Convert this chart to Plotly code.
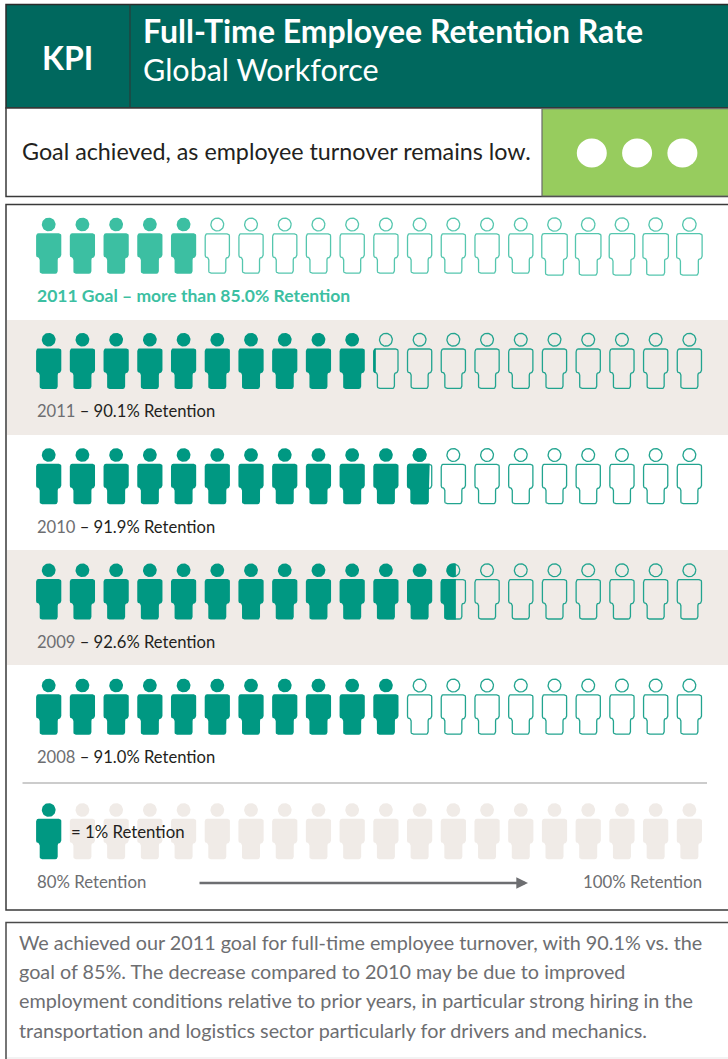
import math
import plotly.graph_objects as go

# ---- data ----
YEARS = ["2011", "2010", "2009", "2008"]
RETENTION = [90.1, 91.9, 92.6, 91.0]
GOAL_YEAR = "2011"
GOAL_VALUE = 85.0
SCALE_START = 80
SCALE_END = 100
STATUS_DOTS = 3
TITLE = "Full-Time Employee Retention Rate"
SUBTITLE = "Global Workforce"
KPI = "KPI"
STATUS_TEXT = "Goal achieved, as employee turnover remains low."
BODY_LINES = [
    "We achieved our 2011 goal for full-time employee turnover, with 90.1% vs. the",
    "goal of 85%. The decrease compared to 2010 may be due to improved",
    "employment conditions relative to prior years, in particular strong hiring in the",
    "transportation and logistics sector particularly for drivers and mechanics.",
]

# ---- styles / layout ----
W, H = 728, 1059
FONT = "Lato"
DEEP = "#00685E"
TEAL = "#009882"
MINT = "#3CBFA2"
OUT_TEAL = "#22A48F"
OUT_MINT = "#55C6AE"
BAND = "#F0EBE7"
GREEN = "#97CC5E"
DARK = "#231F20"
GREY = "#6D6E71"
X0, DX = 48.7, 33.72
ROW_HEAD_Y = {"goal": 224.5, "2011": 339.7, "2010": 455.0, "2009": 570.3, "2008": 685.5, "key": 810.0}


def rounded(points, r, n=5):
    out = []
    m = len(points)
    for i, (x, y) in enumerate(points):
        px, py = points[i - 1]
        nx, ny = points[(i + 1) % m]
        d1 = math.hypot(px - x, py - y)
        d2 = math.hypot(nx - x, ny - y)
        a = (x + (px - x) / d1 * r, y + (py - y) / d1 * r)
        b = (x + (nx - x) / d2 * r, y + (ny - y) / d2 * r)
        for k in range(n + 1):
            t = k / n
            out.append(((1 - t) ** 2 * a[0] + 2 * t * (1 - t) * x + t * t * b[0],
                        (1 - t) ** 2 * a[1] + 2 * t * (1 - t) * y + t * t * b[1]))
    return out


def body_shape(cx, head_y, s=1.0, inset=0.0):
    top = head_y + 8.8 - (s - 1) * 2
    hw = 12.6 * s - inset
    lw = 9.0 * s - inset
    t = top + inset
    m = top + 24.2 * s
    b = top + 40.4 * s - inset
    pts = [(cx - hw, t), (cx + hw, t), (cx + hw, m), (cx + lw, m),
           (cx + lw, b), (cx - lw, b), (cx - lw, m), (cx - hw, m)]
    return rounded(pts, 2.4)


def head_shape(cx, head_y, s=1.0, inset=0.0):
    r = 6.9 * s - inset
    return [(cx + r * math.cos(2 * math.pi * i / 40), head_y + r * math.sin(2 * math.pi * i / 40))
            for i in range(40)]


def clip_right(poly, cut):
    out = []
    for i, p in enumerate(poly):
        q = poly[(i + 1) % len(poly)]
        pin, qin = p[0] <= cut, q[0] <= cut
        if pin:
            out.append(p)
        if pin != qin:
            t = (cut - p[0]) / (q[0] - p[0])
            out.append((cut, p[1] + t * (q[1] - p[1])))
    return out


def add_poly(xs, ys, poly):
    if not poly:
        return
    closed = poly + [poly[0]]
    xs.extend(p[0] for p in closed)
    ys.extend(p[1] for p in closed)
    xs.append(None)
    ys.append(None)


def person_row(fig, value, head_y, fill, outline, key=False, grow_last=0):
    units = value - SCALE_START
    fx, fy, ox, oy, bx, by = [], [], [], [], [], []
    total = SCALE_END - SCALE_START
    for i in range(total):
        cx = X0 + DX * i
        frac = max(0.0, min(1.0, units - i))
        s = 1.05 if i >= total - grow_last else 1.0
        if frac >= 1:
            add_poly(fx, fy, body_shape(cx, head_y))
            add_poly(fx, fy, head_shape(cx, head_y))
            continue
        if key:
            add_poly(bx, by, body_shape(cx, head_y))
            add_poly(bx, by, head_shape(cx, head_y))
            continue
        add_poly(ox, oy, body_shape(cx, head_y, s, 0.5))
        add_poly(ox, oy, head_shape(cx, head_y, s, 0.5))
        if frac > 0:
            cut = cx - 12.6 + 25.2 * frac
            add_poly(fx, fy, clip_right(body_shape(cx, head_y), cut))
            add_poly(fx, fy, clip_right(head_shape(cx, head_y), cut))
    if bx:
        fig.add_trace(go.Scatter(x=bx, y=by, mode="lines", fill="toself", fillcolor=BAND,
                                 line=dict(width=0, color=BAND), hoverinfo="skip"))
    if ox:
        fig.add_trace(go.Scatter(x=ox, y=oy, mode="lines", line=dict(width=1.3, color=outline),
                                 hoverinfo="skip"))
    if fx:
        fig.add_trace(go.Scatter(x=fx, y=fy, mode="lines", fill="toself", fillcolor=fill,
                                 line=dict(width=0, color=fill), hoverinfo="skip"))


fig = go.Figure()
person_row(fig, GOAL_VALUE, ROW_HEAD_Y["goal"], MINT, OUT_MINT, grow_last=5)
for yr, val in zip(YEARS, RETENTION):
    person_row(fig, val, ROW_HEAD_Y[yr], TEAL, OUT_TEAL)
person_row(fig, SCALE_START + 1, ROW_HEAD_Y["key"], TEAL, TEAL, key=True)


def rect(x0, y0, x1, y1, fill="rgba(0,0,0,0)", line=None, w=1.5):
    return dict(type="rect", xref="x", yref="y", x0=x0, y0=y0, x1=x1, y1=y1, fillcolor=fill,
                line=dict(color=line or "rgba(0,0,0,0)", width=w if line else 0), layer="below")


def hline(x0, x1, y, color, w=1.2):
    return dict(type="line", xref="x", yref="y", x0=x0, x1=x1, y0=y, y1=y,
                line=dict(color=color, width=w), layer="below")


shapes = [
    rect(6, 4.5, 740, 108, DEEP, "#2B2B2B"),
    dict(type="line", xref="x", yref="y", x0=130, x1=130, y0=4.5, y1=108,
         line=dict(color="#2B3B38", width=1.2), layer="below"),
    rect(6, 108, 740, 196.5, "#FFFFFF", "#3A3A3A"),
    rect(542, 108.7, 740, 196, GREEN, "#6A6A6A", 1.2),
    rect(6, 204.5, 740, 910, "#FFFFFF", "#3A3A3A"),
    rect(7, 320, 728, 435, BAND),
    rect(7, 550, 728, 665, BAND),
    hline(22.5, 707, 783, "#9A9A9A"),
    rect(6, 922.5, 740, 1072, "#FFFFFF", "#4A4A4A"),
    hline(7, 728, 1058, "#E8E8E8"),
]
for i in range(STATUS_DOTS):
    cx = 591.8 + 45.3 * i
    shapes.append(dict(type="circle", xref="x", yref="y", x0=cx - 15, x1=cx + 15, y0=138.5, y1=167.5,
                       fillcolor="#FFFFFF", line=dict(width=0), layer="above"))


def label(x, y, text, size, color, bold=False, anchor="left"):
    return dict(xref="x", yref="y", x=x, y=y, text=f"<b>{text}</b>" if bold else text, showarrow=False,
                xanchor=anchor, yanchor="middle",
                font=dict(family=FONT, size=size, color=color), align="left",
                borderpad=0, borderwidth=0)


ann = [
    label(67.5, 57, KPI, 32, "#FFFFFF", True, "center"),
    label(143, 30.5, TITLE, 32, "#FFFFFF", True),
    label(143, 68.5, SUBTITLE, 30.5, "#FFFFFF"),
    label(21.5, 150.5, STATUS_TEXT, 23.3, DARK),
    label(36.5, 295.3, f"{GOAL_YEAR} Goal – more than {GOAL_VALUE:.1f}% Retention", 17.5, MINT, True),
]
for yr, val in zip(YEARS, RETENTION):
    ann.append(label(36.5, ROW_HEAD_Y[yr] + 71.6,
                     f'<span style="color:{GREY}">{yr}</span> – {val:.1f}% Retention', 16.6, DARK))
ann.append(label(71, 831.5, "= 1% Retention", 16.8, DARK))
ann.append(label(36.5, 881.5, f"{SCALE_START}% Retention", 16.8, GREY))
ann.append(label(702, 881.5, f"{SCALE_END}% Retention", 16.8, GREY, anchor="right"))
for i, line in enumerate(BODY_LINES):
    ann.append(label(18.5, 942 + 29.2 * i, line, 19.8, GREY))
ann.append(dict(xref="x", yref="y", axref="x", ayref="y", x=528, y=883, ax=198, ay=883, text="",
                showarrow=True, arrowhead=2, arrowsize=0.9, arrowwidth=2.6, arrowcolor=GREY))

fig.update_layout(
    width=W, height=H, margin=dict(l=0, r=0, t=0, b=0),
    paper_bgcolor="#FFFFFF", plot_bgcolor="rgba(0,0,0,0)",
    showlegend=False, hovermode=False, dragmode=False,
    shapes=shapes, annotations=ann,
    xaxis=dict(range=[0, W], visible=False, fixedrange=True),
    yaxis=dict(range=[H, 0], visible=False, fixedrange=True),
)
fig.write_html("out.html", config=dict(displayModeBar=False, responsive=False),
               post_script="document.body.style.margin='0';document.documentElement.style.overflow='hidden';")
